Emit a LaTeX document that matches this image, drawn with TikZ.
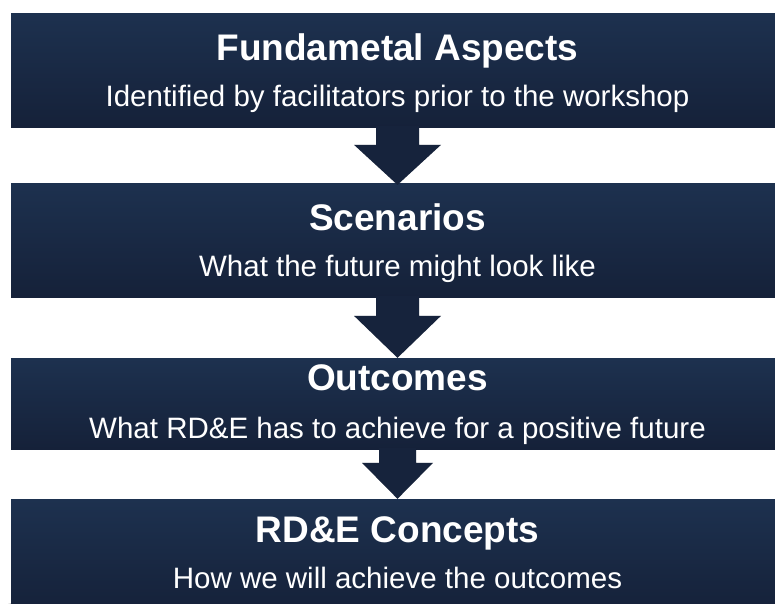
\documentclass[tikz,border=0pt]{standalone}
\usepackage{fontspec}
\setmainfont{Liberation Sans}
\usetikzlibrary{calc,backgrounds}

\definecolor{navytop}{RGB}{29,49,79}
\definecolor{navybot}{RGB}{21,33,57}
\definecolor{arrowfill}{RGB}{22,35,60}

\tikzset{
  panel/.style={rectangle, inner sep=0pt, minimum width=773pt,
    top color=navytop, bottom color=navybot, draw=none},
  headline/.style={anchor=base, text=white, inner sep=0pt,
    font=\bfseries\fontsize{37}{40}\selectfont},
  subline/.style={anchor=base, text=white, inner sep=0pt,
    font=\fontsize{29.5}{33}\selectfont},
  blockarrow/.style={fill=arrowfill, draw=none},
}

% soft drop shadow behind a rectangular node
\newcommand\panelshadow[1]{%
  \foreach \k in {0,1,...,5}{%
    \fill[black, opacity=0.05]
      ($(#1.north west)+(-\k*0.7+1,-\k*0.7+4)$) rectangle
      ($(#1.south east)+(\k*0.7+1,\k*0.7+3)$);
  }%
}

% outline of a block arrow from the bottom of one panel to the top of the next
% #1 from, #2 to, #3 shaft half width, #4 head half width, #5 head length,
% #6 tip offset, #7 overlap into the upper panel
\newcommand\arrowoutline[7]{%
  ($(#1.south)+(-#3,-#7)$) -- ($(#2.north)+(-#3,#6-#5)$) --
  ($(#2.north)+(-#4,#6-#5)$) -- ($(#2.north)+(0,#6)$) --
  ($(#2.north)+(#4,#6-#5)$) -- ($(#2.north)+(#3,#6-#5)$) --
  ($(#1.south)+(#3,-#7)$) -- cycle
}
\newcommand\flowarrow[6]{%
  \foreach \k in {1,2,3}{%
    \fill[black, opacity=0.07, shift={(0.5*\k,1.2*\k)}]
      \arrowoutline{#1}{#2}{#3}{#4}{#5}{#6}{0};
  }%
  \fill[blockarrow] \arrowoutline{#1}{#2}{#3}{#4}{#5}{#6}{1};
}

\begin{document}
\begin{tikzpicture}[x=1pt, y=-1pt]
  \useasboundingbox (0,0) rectangle (775,603);
  \clip (0,0) rectangle (775,603);
  \fill[white] (0,0) rectangle (775,603);

  % panels
  \node[panel, minimum height=114pt] (b1) at (397.5,70) {};
  \node[panel, minimum height=114pt] (b2) at (397.5,240) {};
  \node[panel, minimum height=91pt]  (b3) at (397.5,403.5) {};
  \node[panel, minimum height=114pt] (b4) at (397.5,556) {};

  \begin{scope}[on background layer]
    \panelshadow{b1}
    \panelshadow{b2}
    \panelshadow{b3}
    \panelshadow{b4}
  \end{scope}

  % arrows between panels
  \flowarrow{b1}{b2}{21.5}{43.5}{40}{2}
  \flowarrow{b2}{b3}{21.5}{43.5}{42}{0}
  \flowarrow{b3}{b4}{18.5}{35.5}{36}{0}

  % texts
  \node[headline] (t1) at (397.5,60)  {Fundametal Aspects};
  \node[subline]  (s1) at (397.5,106) {Identified by facilitators prior to the workshop};
  \node[headline] (t2) at (397.5,230) {Scenarios};
  \node[subline]  (s2) at (397.5,276) {What the future might look like};
  \node[headline] (t3) at (397.5,390) {Outcomes};
  \node[subline]  (s3) at (397.5,438) {What RD\&E has to achieve for a positive future};
  \node[headline] (t4) at (397.5,542) {RD\&E Concepts};
  \node[subline]  (s4) at (397.5,588) {How we will achieve the outcomes};
\end{tikzpicture}
\end{document}
